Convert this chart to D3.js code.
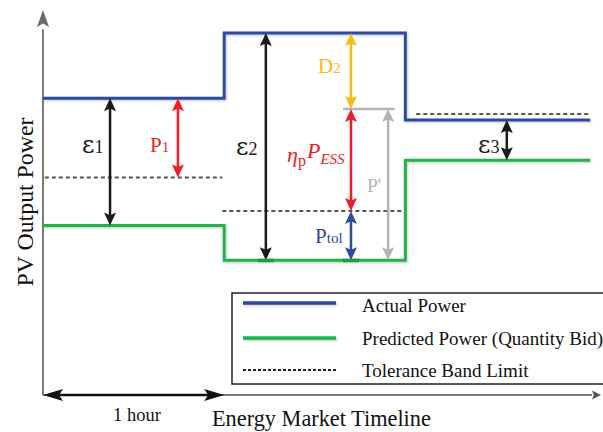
<!DOCTYPE html>
<html>
<head>
<meta charset="utf-8">
<script src="https://cdn.jsdelivr.net/npm/d3@7/dist/d3.min.js"></script>
<style>
  html, body { margin: 0; padding: 0; background: #fff; }
  svg { display: block; }
  text { font-family: "Liberation Serif", "Times New Roman", serif; }
</style>
</head>
<body>
<svg id="chart" width="603" height="432"></svg>
<script>
// Hourly market intervals (hours) and power levels (% of scale)
const hours = [0, 1, 2];
const actualPower = [77.1, 94.0, 71.4];
const predictedPower = [44.0, 35.0, 61.0];
const toleranceLimit = [56.5, 47.8, 73.0];
const storageLevel = 74.3;          // level reached after ESS dispatch in hour 2
const endHour = 3.02;

// Tolerance band segments per hour [start, end]
const toleranceSpans = [[0.01, 0.99], [0.99, 2.0], [2.06, 3.02]];

// Vertical dimension arrows: hour position, from level, to level
const dimArrows = [
  { name: "eps1", at: 0.37, from: actualPower[0], to: predictedPower[0], color: "#1a1a1a" },
  { name: "p1",   at: 0.745, from: actualPower[0], to: toleranceLimit[0], color: "#ee1c25" },
  { name: "eps2", at: 1.23, from: actualPower[1], to: predictedPower[1], color: "#1a1a1a" },
  { name: "d2",   at: 1.70, from: actualPower[1], to: storageLevel, color: "#fdb913" },
  { name: "pess", at: 1.70, from: storageLevel, to: toleranceLimit[1], color: "#ee1c25" },
  { name: "ptol", at: 1.70, from: toleranceLimit[1], to: predictedPower[1], color: "#2e4a9e" },
  { name: "pp",   at: 1.905, from: storageLevel, to: predictedPower[1], color: "#b3b3b3" },
  { name: "eps3", at: 2.56, from: actualPower[2], to: predictedPower[2], color: "#1a1a1a" }
];

const legendItems = ["Actual Power", "Predicted Power (Quantity Bid)", "Tolerance Band Limit"];

const colors = { actual: "#2e4a9e", predicted: "#22b14c", tolerance: "#555555", axis: "#7a7a7a" };

const svg = d3.select("#chart");
const x = d3.scaleLinear().domain([0, 3.08]).range([43, 601]);
const y = d3.scaleLinear().domain([0, 100]).range([395, 10]);

const defs = svg.append("defs");
const shadow = defs.append("filter").attr("id", "soft").attr("filterUnits", "userSpaceOnUse")
  .attr("x", 0).attr("y", 0).attr("width", 603).attr("height", 432);
shadow.append("feDropShadow").attr("dx", 1).attr("dy", 1.2).attr("stdDeviation", 0.8)
  .attr("flood-color", "#000").attr("flood-opacity", 0.22);

// Filled arrowhead path pointing along +y with tip at origin
function headPath(len, half) {
  return `M0,0 L${-half},${-len} L0,${-len * 0.8} L${half},${-len} Z`;
}

// ---- Axes ----
const axisG = svg.append("g");
axisG.append("line").attr("x1", x(0)).attr("x2", x(0)).attr("y1", y(0)).attr("y2", y(95))
  .attr("stroke", colors.axis).attr("stroke-width", 2);
axisG.append("path").attr("d", headPath(17, 6))
  .attr("transform", `translate(${x(0)},${y(100)}) rotate(180)`)
  .attr("fill", "#6b6b6b");
axisG.append("line").attr("x1", x(0)).attr("x2", x(3.03)).attr("y1", y(0)).attr("y2", y(0))
  .attr("stroke", colors.axis).attr("stroke-width", 2);
axisG.append("path").attr("d", headPath(9, 4.5))
  .attr("transform", `translate(${x(3.08)},${y(0)}) rotate(-90)`)
  .attr("fill", "#555");

// One-hour span arrow on the time axis
axisG.append("line").attr("x1", x(0) + 8).attr("x2", x(1) - 8).attr("y1", y(0)).attr("y2", y(0))
  .attr("stroke", "#111").attr("stroke-width", 2.5);
axisG.append("path").attr("d", headPath(20, 6))
  .attr("transform", `translate(${x(0)},${y(0)}) rotate(90)`).attr("fill", "#111");
axisG.append("path").attr("d", headPath(20, 6))
  .attr("transform", `translate(${x(1)},${y(0)}) rotate(-90)`).attr("fill", "#111");

svg.append("text").attr("x", 137).attr("y", 421).attr("text-anchor", "middle")
  .attr("font-size", 18.5).attr("fill", "#111").text("1 hour");
svg.append("text").attr("x", 212).attr("y", 426)
  .attr("font-size", 22.3).attr("fill", "#111").text("Energy Market Timeline");
svg.append("text").attr("transform", `translate(33,${202}) rotate(-90)`).attr("text-anchor", "middle")
  .attr("font-size", 23.8).attr("fill", "#111").text("PV Output Power");

// ---- Power profiles ----
function stepPoints(vals) {
  return hours.map((h, i) => [h, vals[i]]).concat([[endHour, vals[vals.length - 1]]]);
}
const stepLine = d3.line().x(d => x(d[0])).y(d => y(d[1])).curve(d3.curveStepAfter);

// Tolerance band limits
svg.append("g").selectAll("line").data(toleranceSpans).join("line")
  .attr("x1", d => x(d[0])).attr("x2", (d, i) => x(d[1]))
  .attr("y1", (d, i) => y(toleranceLimit[i])).attr("y2", (d, i) => y(toleranceLimit[i]))
  .attr("stroke", colors.tolerance).attr("stroke-width", 2).attr("stroke-dasharray", "4,3");

svg.append("path").datum(stepPoints(predictedPower)).attr("d", stepLine)
  .attr("fill", "none").attr("stroke", colors.predicted).attr("stroke-width", 3)
  .attr("filter", "url(#soft)");
svg.append("path").datum(stepPoints(actualPower)).attr("d", stepLine)
  .attr("fill", "none").attr("stroke", colors.actual).attr("stroke-width", 3)
  .attr("filter", "url(#soft)");

// Storage reference level in hour 2
svg.append("line").attr("x1", x(1.657)).attr("x2", x(1.94))
  .attr("y1", y(storageLevel)).attr("y2", y(storageLevel))
  .attr("stroke", "#b3b3b3").attr("stroke-width", 2.5);

// ---- Dimension arrows ----
const arrowG = svg.append("g").selectAll("g").data(dimArrows).join("g");
arrowG.append("line")
  .attr("x1", d => x(d.at)).attr("x2", d => x(d.at))
  .attr("y1", d => y(d.from) + 8).attr("y2", d => y(d.to) - 8)
  .attr("stroke", d => d.color).attr("stroke-width", 2.5);
arrowG.append("path").attr("d", headPath(13, 6))
  .attr("transform", d => `translate(${x(d.at)},${y(d.from)}) rotate(180)`)
  .attr("fill", d => d.color);
arrowG.append("path").attr("d", headPath(13, 6))
  .attr("transform", d => `translate(${x(d.at)},${y(d.to)})`)
  .attr("fill", d => d.color);

// Ticks where the hour-2 arrows meet the predicted profile
svg.append("g").selectAll("rect").data([1.23, 1.70]).join("rect")
  .attr("x", d => x(d) - 8).attr("y", y(predictedPower[1]) - 1.5)
  .attr("width", 16).attr("height", 3.5).attr("fill", "#1d9a44");

// ---- Labels ----
function epsLabel(xp, yp, sub) {
  const t = svg.append("text").attr("x", xp).attr("y", yp).attr("fill", "#1a1a1a");
  t.append("tspan").attr("font-family", "DejaVu Serif").attr("font-size", 24).text("\u03b5");
  t.append("tspan").attr("font-size", 18).text(sub);
}
epsLabel(82, 153, "1");
epsLabel(236, 155, "2");
epsLabel(478, 153, "3");

function smallSubLabel(xp, yp, main, sub, color, size) {
  const t = svg.append("text").attr("x", xp).attr("y", yp).attr("fill", color);
  t.append("tspan").attr("font-size", size).text(main);
  t.append("tspan").attr("font-size", size * 0.72).text(sub);
}
smallSubLabel(150, 152, "P", "1", "#ee1c25", 21);
smallSubLabel(318, 73, "D", "2", "#fdb913", 21);
smallSubLabel(315, 243, "P", "tol", "#2e4a9e", 21);

svg.append("text").attr("x", 367).attr("y", 192).attr("font-size", 19.5)
  .attr("fill", "#b3b3b3").text("P'");

const pess = svg.append("text").attr("x", 287).attr("y", 162).attr("fill", "#ee1c25");
pess.append("tspan").attr("font-style", "italic").attr("font-size", 22).text("\u03b7");
pess.append("tspan").attr("font-size", 16).attr("dy", 4).text("p");
pess.append("tspan").attr("font-style", "italic").attr("font-size", 22).attr("dy", -8).attr("dx", 1).text("P");
pess.append("tspan").attr("font-style", "italic").attr("font-size", 15).attr("dy", 6).text("ESS");

// ---- Legend ----
const legend = svg.append("g");
legend.append("rect").attr("x", 232).attr("y", 293).attr("width", 390).attr("height", 91)
  .attr("fill", "#fff").attr("stroke", "#222").attr("stroke-width", 1.5);
const legendY = [303, 338, 370];
const legendTextY = [312, 345, 377];
const legendStroke = [colors.actual, colors.predicted, "#222"];
legend.selectAll("line").data(legendItems).join("line")
  .attr("x1", 243).attr("x2", 336)
  .attr("y1", (d, i) => legendY[i]).attr("y2", (d, i) => legendY[i])
  .attr("stroke", (d, i) => legendStroke[i])
  .attr("stroke-width", (d, i) => i < 2 ? 3.5 : 2)
  .attr("stroke-dasharray", (d, i) => i < 2 ? null : "3,2")
  .attr("filter", (d, i) => i < 2 ? "url(#soft)" : null);
legend.selectAll("text").data(legendItems).join("text")
  .attr("x", 362).attr("y", (d, i) => legendTextY[i])
  .attr("font-size", 19).attr("fill", "#111").text(d => d);
</script>
</body>
</html>
